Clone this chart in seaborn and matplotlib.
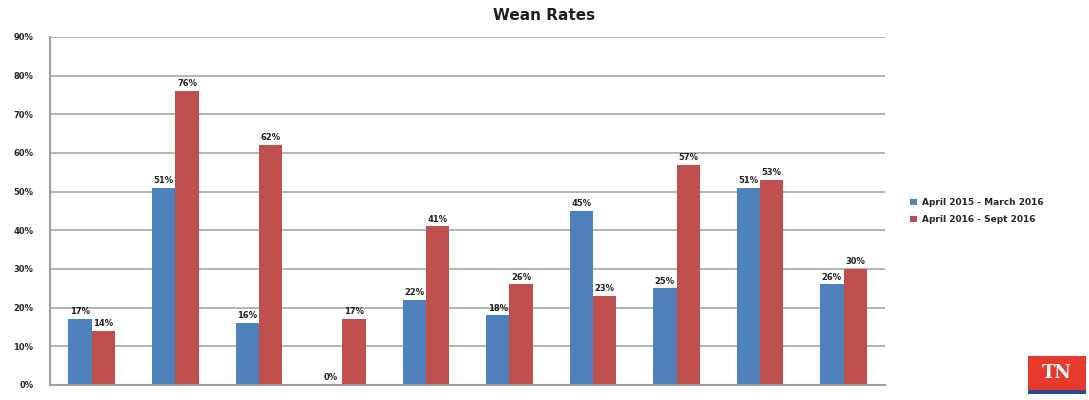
import pandas as pd
import matplotlib.pyplot as plt
import matplotlib.patches as mpatches
import seaborn as sns

groups = ['1', '2', '3', '4', '5', '6', '7', '8', '9', '10']
series_names = ['April 2015 - March 2016', 'April 2016 - Sept 2016']
period1 = [17, 51, 16, 0, 22, 18, 45, 25, 51, 26]
period2 = [14, 76, 62, 17, 41, 26, 23, 57, 53, 30]
yticks = [0, 10, 20, 30, 40, 50, 60, 70, 80, 90]

df = pd.DataFrame({
    'group': groups * 2,
    'period': [series_names[0]] * len(groups) + [series_names[1]] * len(groups),
    'rate': period1 + period2,
})

sns.set_style('white')
fig = plt.figure(figsize=(10.89, 4), dpi=100)
ax = fig.add_axes([0.046, 0.0375, 0.767, 0.87])

sns.barplot(data=df, x='group', y='rate', hue='period', order=groups,
            hue_order=series_names, palette=['#4F81BD', '#C0504D'],
            width=0.56, gap=0, saturation=1, linewidth=0, edgecolor='none',
            ax=ax, legend=True)

for cont in ax.containers:
    ax.bar_label(cont, fmt='%d%%', fontsize=6, fontweight='bold', padding=2, color='#222222')

ax.set_ylim(0, 90)
ax.set_xlim(-0.5, len(groups) - 0.5)
ax.set_yticks(yticks)
ax.set_yticklabels([f'{v}%' for v in yticks], fontsize=6, fontweight='bold')
ax.set_xticks([])
ax.set_xlabel('')
ax.set_ylabel('')
ax.yaxis.grid(True, color='#A0A0A0', linewidth=1.1)
ax.set_axisbelow(True)
for side in ['top', 'right']:
    ax.spines[side].set_visible(False)
for side in ['left', 'bottom']:
    ax.spines[side].set_color('#A0A0A0')
    ax.spines[side].set_linewidth(1.5)
ax.tick_params(axis='y', length=0, pad=12)

ax.legend(loc='center left', bbox_to_anchor=(1.02, 0.5), frameon=False,
          handlelength=0.7, handleheight=0.7, handletextpad=0.6,
          labelspacing=0.9, prop={'weight': 'bold', 'size': 6.5})

fig.text(0.5, 0.96, 'Wean Rates', ha='center', va='center',
         fontsize=11, fontweight='bold', color='#1F1F1F')

# TN logo
fig.patches.append(mpatches.Rectangle((1028 / 1089, 0.025), 58 / 1089, 0.085,
                                      transform=fig.transFigure, facecolor='#E8392E',
                                      edgecolor='none'))
fig.patches.append(mpatches.Rectangle((1028 / 1089, 0.015), 58 / 1089, 0.01,
                                      transform=fig.transFigure, facecolor='#2B4C8C',
                                      edgecolor='none'))
fig.text(1057 / 1089, 0.068, 'TN', ha='center', va='center', fontsize=13,
         fontweight='bold', color='white', family='DejaVu Serif')

fig.savefig('out.png', dpi=100)
